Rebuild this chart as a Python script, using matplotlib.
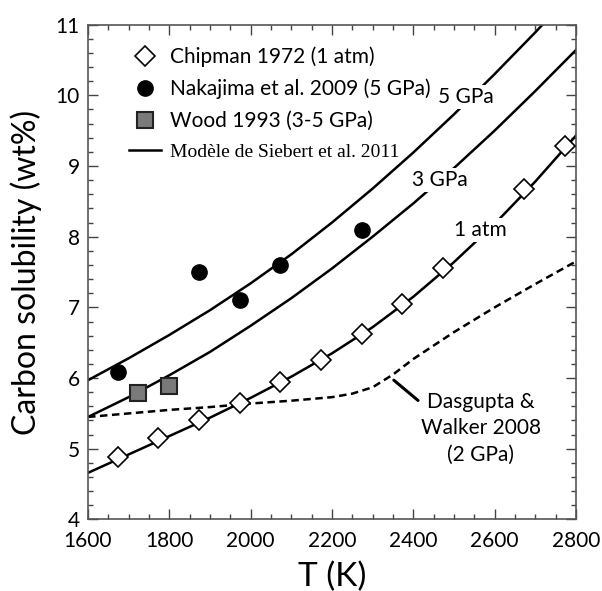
import matplotlib
matplotlib.use("Agg")
import matplotlib.pyplot as plt
from matplotlib.lines import Line2D
from matplotlib.ticker import MultipleLocator

plt.rcParams['font.family'] = ['Lato', 'DejaVu Sans']

# Chipman 1972 (1 atm)
chip_T = [1673, 1773, 1873, 1973, 2073, 2173, 2273, 2373, 2473, 2673, 2773]
chip_C = [4.89, 5.15, 5.41, 5.65, 5.94, 6.26, 6.63, 7.05, 7.55, 8.68, 9.28]

# Nakajima et al. 2009 (5 GPa)
naka_T = [1673, 1873, 1973, 2073, 2273]
naka_C = [6.09, 7.50, 7.10, 7.60, 8.10]

# Wood 1993 (3-5 GPa)
wood_T = [1723, 1800]
wood_C = [5.79, 5.89]

# Siebert et al. 2011 model curves
T_model = [1600, 1700, 1800, 1900, 2000, 2100, 2200, 2300, 2400, 2500, 2600, 2700, 2800]
c_5gpa = [5.97, 6.28, 6.61, 6.96, 7.34, 7.75, 8.20, 8.68, 9.19, 9.73, 10.30, 10.89, 11.50]
c_3gpa = [5.45, 5.73, 6.04, 6.37, 6.74, 7.13, 7.55, 8.00, 8.47, 8.97, 9.50, 10.06, 10.64]
c_1atm = [4.66, 4.92, 5.18, 5.44, 5.72, 6.02, 6.35, 6.72, 7.15, 7.64, 8.18, 8.78, 9.43]

# Dasgupta & Walker 2008 (2 GPa)
dw_T = [1600, 1700, 1800, 1900, 2000, 2100, 2200, 2250, 2300, 2350, 2400, 2500, 2600, 2700, 2800]
dw_C = [5.45, 5.50, 5.55, 5.59, 5.64, 5.68, 5.73, 5.78, 5.87, 6.05, 6.27, 6.65, 7.00, 7.33, 7.65]

fig = plt.figure(figsize=(6.02, 5.91), dpi=100)
ax = fig.add_axes([0.1462, 0.121, 0.8106, 0.8375])

lw = 1.8
ax.plot(T_model, c_5gpa, color='black', lw=lw, zorder=2)
ax.plot(T_model, c_3gpa, color='black', lw=lw, zorder=2)
ax.plot(T_model, c_1atm, color='black', lw=lw, zorder=2)
ax.plot(dw_T, dw_C, color='black', lw=lw, ls=(0, (3.0, 1.8)), zorder=2)

ax.plot(chip_T, chip_C, ls='none', marker='D', ms=10, mfc='white', mec='black', mew=1.2, zorder=4)
ax.plot(naka_T, naka_C, ls='none', marker='o', ms=11, mfc='black', mec='black', zorder=4)
ax.plot(wood_T, wood_C, ls='none', marker='s', ms=11, mfc='#7a7a7a', mec='#222222', mew=1.5, zorder=4)

box = dict(fc='white', ec='none', pad=1.5)
ax.text(2528, 9.97, '5 GPa', fontsize=15, ha='center', va='center', bbox=box, zorder=3)
ax.text(2465, 8.80, '3 GPa', fontsize=15, ha='center', va='center', bbox=box, zorder=3)
ax.text(2564, 8.09, '1 atm', fontsize=15, ha='center', va='center', bbox=box, zorder=3)

ax.annotate('Dasgupta &\nWalker 2008\n(2 GPa)', xy=(2352, 5.97), xytext=(2566, 5.29),
            fontsize=15, ha='center', va='center', linespacing=1.4,
            arrowprops=dict(arrowstyle='-', color='black', lw=2.2,
                            shrinkA=0, shrinkB=0, relpos=(0.0, 0.85)))

handles = [
    Line2D([], [], ls='none', marker='D', ms=10, mfc='white', mec='black', mew=1.2),
    Line2D([], [], ls='none', marker='o', ms=11, mfc='black', mec='black'),
    Line2D([], [], ls='none', marker='s', ms=11, mfc='#7a7a7a', mec='#222222', mew=1.5),
    Line2D([], [], color='black', lw=lw),
]
labels = ['Chipman 1972 (1 atm)', 'Nakajima et al. 2009 (5 GPa)',
          'Wood 1993 (3-5 GPa)', 'Modèle de Siebert et al. 2011']
leg = ax.legend(handles, labels, loc='upper left', frameon=False, fontsize=15,
                handlelength=1.5, handletextpad=0.45, labelspacing=0.56,
                borderaxespad=0.3, bbox_to_anchor=(0.055, 0.985))
leg.get_texts()[3].set_fontfamily(['Liberation Serif', 'DejaVu Serif'])
leg.get_texts()[3].set_fontsize(14)

ax.set_xlim(1600, 2800)
ax.set_ylim(4, 11)
ax.xaxis.set_major_locator(MultipleLocator(200))
ax.xaxis.set_minor_locator(MultipleLocator(50))
ax.yaxis.set_major_locator(MultipleLocator(1))
ax.yaxis.set_minor_locator(MultipleLocator(0.2))
ax.tick_params(which='both', direction='in', top=True, right=True, color='#444444')
ax.tick_params(which='major', length=7, width=1, labelsize=15)
ax.tick_params(axis='x', which='major', pad=8)
ax.tick_params(axis='y', which='major', pad=6)
ax.tick_params(which='minor', length=3.5, width=1)
for sp in ax.spines.values():
    sp.set_color('#555555')
    sp.set_linewidth(1.2)

ax.set_xlabel('T (K)', fontsize=24, labelpad=8)
ax.set_ylabel('Carbon solubility (wt%)', fontsize=23, labelpad=10)

fig.savefig('out.png', dpi=100)
